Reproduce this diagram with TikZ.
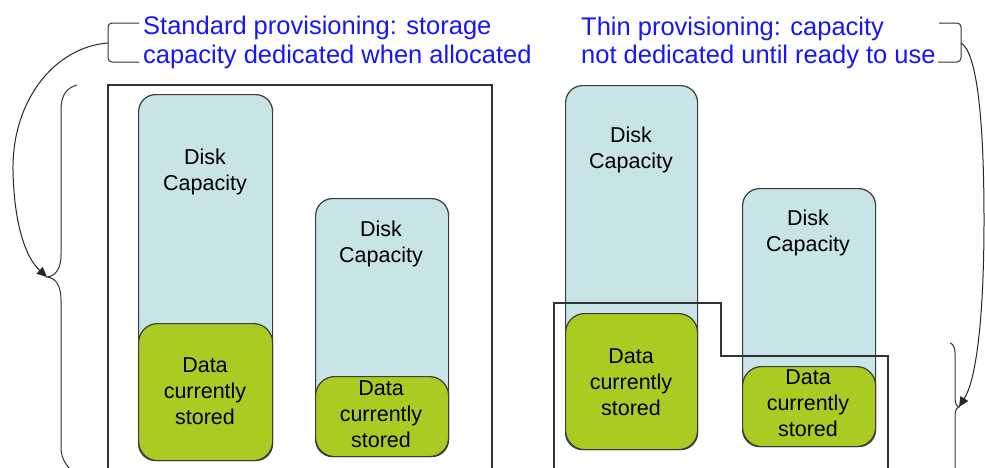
\documentclass[tikz,border=0pt]{standalone}
\usepackage{fontspec}
\setmainfont{Liberation Sans}
\usetikzlibrary{arrows.meta}
\definecolor{capfill}{RGB}{200,228,231}
\definecolor{datafill}{RGB}{170,204,34}
\definecolor{edge}{RGB}{60,60,60}
\definecolor{headblue}{RGB}{22,22,250}
\begin{document}
\begin{tikzpicture}[x=1pt,y=-1pt,
  capbox/.style={draw=edge, line width=1.2pt, fill=capfill, rounded corners=17pt,
    anchor=north west, inner sep=0pt},
  databox/.style={draw=edge, line width=1.2pt, fill=datafill, rounded corners=19pt,
    anchor=north west, inner sep=0pt},
  disktext/.style={align=center, inner sep=0pt, font=\fontsize{21.5}{26}\selectfont},
  headline/.style={anchor=base west, inner sep=0pt, text=headblue,
    font=\fontsize{25.5}{29}\selectfont},
  frame/.style={draw=black!80, line width=1.1pt},
  brace/.style={draw=black!80, line width=1pt},
  link/.style={draw=black!85, line width=1pt, -{Triangle[length=10pt,width=9pt]}}]
\useasboundingbox (0,0) rectangle (985,467);
\clip (0,0) rectangle (985,467);

% headings
\node[headline] (std1) at (143,34) {Standard provisioning: storage};
\node[headline] (std2) at (143,63) {capacity dedicated when allocated};
\node[headline] (thin1) at (581,35) {Thin provisioning: capacity};
\node[headline] (thin2) at (581,63) {not dedicated until ready to use};

% frame round the standard volumes
\draw[frame] (108,470) -- (108,85) -- (492,85) -- (492,470);

% standard provisioning: two volumes
\node[capbox, minimum width=134pt, minimum height=366pt] (capA) at (138,94) {};
\node[databox, minimum width=134pt, minimum height=137pt] (dataA) at (138,323) {};
\node[disktext] (capAtext) at (205,172) {Disk\\Capacity};
\node[disktext] (dataAtext) at (205,391) {Data\\currently\\stored};

\node[capbox, minimum width=133pt, minimum height=258pt] (capB) at (315,198) {};
\node[databox, minimum width=133pt, minimum height=80pt] (dataB) at (315,376) {};
\node[disktext] (capBtext) at (381,244) {Disk\\Capacity};
\node[disktext] (dataBtext) at (381,414) {Data\\currently\\stored};

% thin provisioning: two volumes
\node[capbox, minimum width=132pt, minimum height=364pt] (capC) at (565,85) {};
\node[databox, minimum width=132pt, minimum height=136pt] (dataC) at (565,313) {};
\node[disktext] (capCtext) at (631,150) {Disk\\Capacity};
\node[disktext] (dataCtext) at (631,382) {Data\\currently\\stored};

\node[capbox, minimum width=133pt, minimum height=258pt] (capD) at (742,188) {};
\node[databox, minimum width=133pt, minimum height=80pt] (dataD) at (742,366) {};
\node[disktext] (capDtext) at (808,233) {Disk\\Capacity};
\node[disktext] (dataDtext) at (808,403) {Data\\currently\\stored};

% stepped outline round the stored data
\draw[frame] (554,470) -- (554,303) -- (721,303) -- (721,356) -- (888,356) -- (888,470);

% bracket on the left heading and its brace
\coordinate (lbr) at (108,43);
\draw[brace, rounded corners=4pt] (139,23) -- (108,23) -- (108,62) -- (139,62);
\coordinate (ltip) at (47,277);
\draw[brace] (77,85) .. controls (66,88) and (61,96) .. (61,110) -- (61,255)
  .. controls (61,268) and (56,276) .. (ltip)
  .. controls (56,278) and (61,286) .. (61,300) -- (61,447)
  .. controls (61,456) and (64,463) .. (71,470);
\draw[link] (lbr) .. controls (55,47) and (12,100) .. (13,170)
  .. controls (14,225) and (26,258) .. (ltip);

% bracket on the right heading and its brace
\coordinate (rbr) at (961,43);
\draw[brace, rounded corners=4pt] (939,23) -- (961,23) -- (961,62) -- (938,62);
\coordinate (rtip) at (959,407);
\draw[brace] (950,343) .. controls (953,344) and (955,347) .. (955,353) -- (955,396)
  .. controls (955,403) and (956,406) .. (rtip)
  .. controls (956,408) and (955,411) .. (955,418) -- (955,470);
\draw[link] (rbr) .. controls (977,52) and (984,120) .. (984,220)
  .. controls (984,320) and (976,380) .. (rtip);
\end{tikzpicture}
\end{document}
